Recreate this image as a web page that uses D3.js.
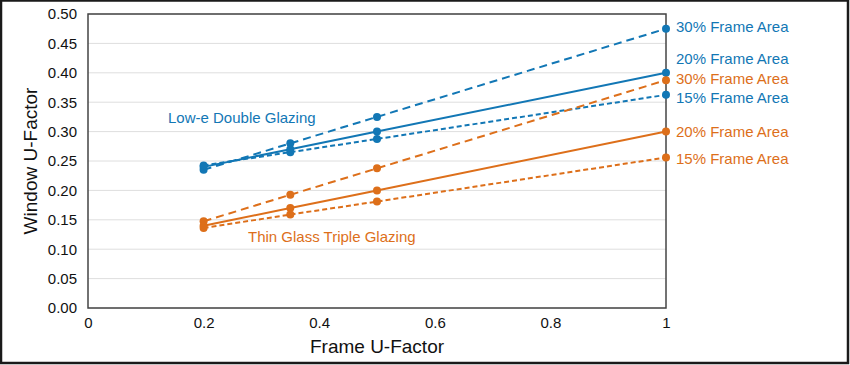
<!DOCTYPE html>
<html lang="en">
<head>
  <meta charset="UTF-8">
  <title>Window U-Factor vs Frame U-Factor</title>
  <script src="https://d3js.org/d3.v7.min.js"></script>
  <style>
    body {
      margin: 0;
      background: #fff;
      font-family: "Liberation Sans", Arial, sans-serif;
    }

    svg {
      display: block;
    }

    .grid line {
      stroke: #dedede;
      stroke-width: 1;
    }

    .tick-label {
      font-size: 15px;
      fill: #111;
    }

    .axis-title {
      font-size: 19px;
      fill: #111;
    }

    .note {
      font-size: 15px;
    }
  </style>
</head>
<body>
  <svg id="chart"></svg>
  <script>
    // x positions (frame U-factor)
    const frameU = [0.2, 0.35, 0.5, 1.0];

    // Low-e double glazing
    const doubleFrame30 = [0.235, 0.28, 0.325, 0.475];
    const doubleFrame20 = [0.24, 0.27, 0.30, 0.40];
    const doubleFrame15 = [0.2425, 0.265, 0.2875, 0.3625];

    // Thin glass triple glazing
    const tripleFrame30 = [0.1475, 0.1925, 0.2375, 0.3875];
    const tripleFrame20 = [0.14, 0.17, 0.20, 0.30];
    const tripleFrame15 = [0.136, 0.159, 0.181, 0.256];

    const xTicks = [0, 0.2, 0.4, 0.6, 0.8, 1];
    const yTicks = [0, 0.05, 0.1, 0.15, 0.2, 0.25, 0.3, 0.35, 0.4, 0.45, 0.5];

    const blue = "#1277b5";
    const orange = "#dd6f1a";

    const series = [
      { name: "30% Frame Area", values: doubleFrame30, color: blue, dash: "8,5", labelDy: -2 },
      { name: "20% Frame Area", values: doubleFrame20, color: blue, dash: null, labelDy: -14 },
      { name: "15% Frame Area", values: doubleFrame15, color: blue, dash: "5,3", labelDy: 3 },
      { name: "30% Frame Area", values: tripleFrame30, color: orange, dash: "8,5", labelDy: -1 },
      { name: "20% Frame Area", values: tripleFrame20, color: orange, dash: null, labelDy: 0 },
      { name: "15% Frame Area", values: tripleFrame15, color: orange, dash: "5,3", labelDy: 1 }
    ];

    const width = 850;
    const height = 365;
    const margin = { top: 14, right: 184, bottom: 57, left: 88 };

    const svg = d3.select("#chart")
      .attr("width", width)
      .attr("height", height);

    const x = d3.scaleLinear()
      .domain([0, 1])
      .range([margin.left, width - margin.right]);

    const y = d3.scaleLinear()
      .domain([0, 0.5])
      .range([height - margin.bottom, margin.top]);

    // gridlines
    svg.append("g")
      .attr("class", "grid")
      .selectAll("line")
      .data(yTicks)
      .join("line")
      .attr("x1", x(0))
      .attr("x2", x(1))
      .attr("y1", d => y(d))
      .attr("y2", d => y(d));

    // plot frame
    svg.append("rect")
      .attr("x", x(0))
      .attr("y", y(0.5))
      .attr("width", x(1) - x(0))
      .attr("height", y(0) - y(0.5))
      .attr("fill", "none")
      .attr("stroke", "#444")
      .attr("stroke-width", 1.5);

    // axes (labels only, no tick marks)
    const yAxis = d3.axisLeft(y).tickValues(yTicks).tickFormat(d3.format(".2f")).tickSize(0).tickPadding(11);
    const xAxis = d3.axisBottom(x).tickValues(xTicks).tickFormat(d => d3.format("~g")(d)).tickSize(0).tickPadding(9);

    svg.append("g")
      .attr("transform", `translate(${x(0)},0)`)
      .call(yAxis)
      .call(g => g.select(".domain").remove())
      .selectAll("text")
      .attr("class", "tick-label")
      .attr("font-family", null)
      .attr("font-size", null);

    svg.append("g")
      .attr("transform", `translate(0,${y(0)})`)
      .call(xAxis)
      .call(g => g.select(".domain").remove())
      .selectAll("text")
      .attr("class", "tick-label")
      .attr("font-family", null)
      .attr("font-size", null);

    svg.append("text")
      .attr("class", "axis-title")
      .attr("x", (x(0) + x(1)) / 2)
      .attr("y", 353)
      .attr("text-anchor", "middle")
      .text("Frame U-Factor");

    svg.append("text")
      .attr("class", "axis-title")
      .attr("transform", `translate(37,${(y(0) + y(0.5)) / 2}) rotate(-90)`)
      .attr("text-anchor", "middle")
      .text("Window U-Factor");

    // lines + markers
    const line = d3.line()
      .x((d, i) => x(frameU[i]))
      .y(d => y(d));

    const groups = svg.append("g")
      .selectAll("g")
      .data(series)
      .join("g");

    groups.append("path")
      .attr("d", d => line(d.values))
      .attr("fill", "none")
      .attr("stroke", d => d.color)
      .attr("stroke-width", 2)
      .attr("stroke-dasharray", d => d.dash);

    groups.selectAll("circle")
      .data(d => d.values.map((v, i) => ({ v, i, color: d.color })))
      .join("circle")
      .attr("cx", d => x(frameU[d.i]))
      .attr("cy", d => y(d.v))
      .attr("r", 4)
      .attr("fill", d => d.color);

    // end labels
    groups.append("text")
      .attr("class", "note")
      .attr("x", x(1) + 10)
      .attr("y", d => y(d.values[d.values.length - 1]) + d.labelDy)
      .attr("dy", "0.35em")
      .attr("fill", d => d.color)
      .text(d => d.name);

    // group labels
    svg.append("text")
      .attr("class", "note")
      .attr("x", 168)
      .attr("y", 118)
      .attr("dy", "0.35em")
      .attr("fill", blue)
      .text("Low-e Double Glazing");

    svg.append("text")
      .attr("class", "note")
      .attr("x", 248)
      .attr("y", 237)
      .attr("dy", "0.35em")
      .attr("fill", orange)
      .text("Thin Glass Triple Glazing");

    // outer border
    svg.append("rect")
      .attr("x", 1)
      .attr("y", 0.5)
      .attr("width", width - 3)
      .attr("height", height - 2.5)
      .attr("fill", "none")
      .attr("stroke", "#1a1a1a")
      .attr("stroke-width", 2.5);
  </script>
</body>
</html>
